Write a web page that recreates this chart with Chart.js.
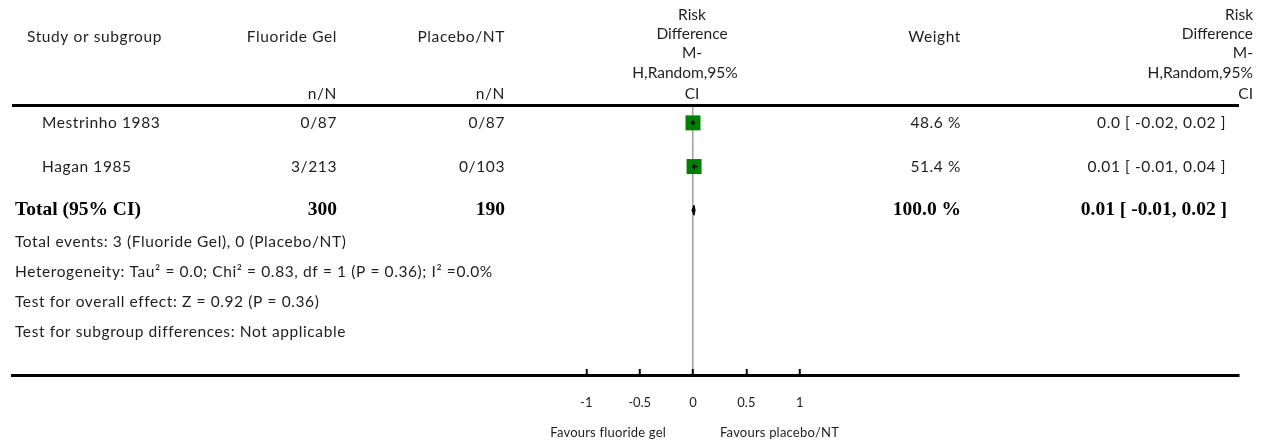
<!DOCTYPE html>
<html>
<head>
<meta charset="utf-8">
<script src="https://cdn.jsdelivr.net/npm/chart.js@4.4.0/dist/chart.umd.min.js"></script>
<style>
  html, body { margin: 0; padding: 0; background: #ffffff; }
  canvas { display: block; }
</style>
</head>
<body>
<canvas id="forest" width="1266" height="445"></canvas>
<script>
// Studies and their counts
const studies = ['Mestrinho 1983', 'Hagan 1985'];
const gelEvents = [0, 3];
const gelTotals = [87, 213];
const placeboEvents = [0, 0];
const placeboTotals = [87, 103];
const weights = [48.6, 51.4];

// Risk differences with 95% CI
const riskDiff = [0.0, 0.01];
const ciLow = [-0.02, -0.01];
const ciHigh = [0.02, 0.04];

// Pooled result
const totalGel = 300;
const totalPlacebo = 190;
const totalWeight = 100.0;
const pooledRD = 0.01;
const pooledLow = -0.01;
const pooledHigh = 0.02;

// Axis
const tickValues = [-1, -0.5, 0, 0.5, 1];
const tickLabels = ['-1', '-0.5', '0', '0.5', '1'];

const footnotes = [
  'Total events: 3 (Fluoride Gel), 0 (Placebo/NT)',
  'Heterogeneity: Tau\u00B2 = 0.0; Chi\u00B2 = 0.83, df = 1 (P = 0.36); I\u00B2 =0.0%',
  'Test for overall effect: Z = 0.92 (P = 0.36)',
  'Test for subgroup differences: Not applicable'
];

const SANS = 'Lato, "Open Sans", sans-serif';
const SERIF = '"Liberation Serif", "DejaVu Serif", serif';
const INK = '#1e1e1e';

function fmtRD(v) { return v === 0 ? '0.0' : String(v); }
function fmtCI(est, lo, hi) { return fmtRD(est) + ' [ ' + lo.toFixed(2) + ', ' + hi.toFixed(2) + ' ]'; }

const totalRow = studies.length;

// Text columns of the table, drawn next to the plot
const tablePlugin = {
  id: 'forestTable',
  afterDraw(chart) {
    const ctx = chart.ctx;
    const area = chart.chartArea;
    const xs = chart.scales.x;
    const ys = chart.scales.y;
    ctx.save();
    ctx.fillStyle = INK;
    ctx.textBaseline = 'middle';

    const text = (s, x, y, align, font, spacing) => {
      ctx.font = font;
      ctx.textAlign = align;
      if ('letterSpacing' in ctx) ctx.letterSpacing = spacing || '0px';
      ctx.fillText(s, x, y);
    };
    const reg = '15.5px ' + SANS;
    const sp = '0.6px';

    // header
    text('Study or subgroup', 27, 37, 'left', reg, sp);
    text('Fluoride Gel', 337, 37, 'right', reg, sp);
    text('n/N', 337, 94, 'right', reg, sp);
    text('Placebo/NT', 505, 37, 'right', reg, sp);
    text('n/N', 505, 94, 'right', reg, sp);
    const hdr = ['Risk', 'Difference', 'M-', 'H,Random,95%', 'CI'];
    const hy = [15, 34, 53, 73, 94];
    hdr.forEach((s, i) => {
      text(s, s === 'H,Random,95%' ? 685 : 692, hy[i], 'center', reg, '0px');
      text(s, 1253, hy[i], 'right', reg, '0px');
    });
    text('Weight', 961, 37, 'right', reg, sp);

    // header rule
    ctx.strokeStyle = '#000';
    ctx.lineWidth = 3;
    ctx.beginPath();
    ctx.moveTo(area.left, 105.5);
    ctx.lineTo(area.right, 105.5);
    ctx.stroke();

    // study rows
    studies.forEach((name, i) => {
      const y = ys.getPixelForValue(i);
      text(name, 42, y, 'left', reg, sp);
      text(gelEvents[i] + '/' + gelTotals[i], 337, y, 'right', reg, sp);
      text(placeboEvents[i] + '/' + placeboTotals[i], 505, y, 'right', reg, sp);
      text(weights[i].toFixed(1) + ' %', 961, y, 'right', reg, sp);
      text(fmtCI(riskDiff[i], ciLow[i], ciHigh[i]), 1226, y, 'right', reg, sp);
    });

    // pooled row
    const ty = ys.getPixelForValue(totalRow);
    const bold = 'bold 19.5px ' + SERIF;
    ctx.fillStyle = '#000';
    text('Total (95% CI)', 15, ty, 'left', bold);
    text(String(totalGel), 337, ty, 'right', bold);
    text(String(totalPlacebo), 505, ty, 'right', bold);
    text(totalWeight.toFixed(1) + ' %', 961, ty, 'right', bold);
    text(fmtCI(pooledRD, pooledLow, pooledHigh), 1227, ty, 'right', bold);

    ctx.fillStyle = INK;
    footnotes.forEach((s, i) => {
      text(s, 15, ty + 32 + i * 30, 'left', reg, sp);
    });

    // favours labels under the axis
    const x0 = xs.getPixelForValue(0);
    const small = '13px ' + SANS;
    text('Favours fluoride gel', x0 - 27, 433, 'right', small, '0.2px');
    text('Favours placebo/NT', x0 + 27, 433, 'left', small, '0.2px');
    ctx.restore();
  }
};

const studyPoints = riskDiff.map((v, i) => ({ x: v, y: i }));

const datasets = [];
// confidence interval lines
studies.forEach((s, i) => {
  datasets.push({
    label: s + ' CI',
    showLine: true,
    data: [{ x: ciLow[i], y: i }, { x: ciHigh[i], y: i }],
    borderColor: '#000',
    borderWidth: 1.5,
    pointRadius: 0
  });
});
// point estimate marks
datasets.push({
  label: 'estimate',
  data: studyPoints,
  pointStyle: 'line',
  rotation: 90,
  pointRadius: 2.5,
  borderColor: '#000',
  borderWidth: 1.5
});
// weight squares
datasets.push({
  label: 'weight',
  data: studyPoints,
  pointStyle: 'rect',
  pointRadius: 10.6,
  backgroundColor: '#008000',
  borderWidth: 0
});
// pooled diamond
const halfH = 0.115;
datasets.push({
  label: 'pooled',
  showLine: true,
  fill: 'shape',
  data: [
    { x: pooledLow, y: totalRow },
    { x: pooledRD, y: totalRow - halfH },
    { x: pooledHigh, y: totalRow },
    { x: pooledRD, y: totalRow + halfH },
    { x: pooledLow, y: totalRow }
  ],
  borderColor: '#000',
  backgroundColor: '#000',
  borderWidth: 1,
  pointRadius: 0,
  tension: 0
});

function build() {
  new Chart(document.getElementById('forest'), {
    type: 'scatter',
    data: { datasets },
    options: {
      responsive: false,
      animation: false,
      devicePixelRatio: 1,
      events: [],
      layout: { padding: { left: 12, right: 27, top: 105, bottom: 0 } },
      plugins: { legend: { display: false }, tooltip: { enabled: false } },
      scales: {
        x: {
          type: 'linear',
          min: -6.382,
          max: 5.117,
          afterBuildTicks(scale) { scale.ticks = tickValues.map(v => ({ value: v })); },
          afterFit(scale) { scale.height = 70; },
          ticks: {
            callback: (v, i) => tickLabels[i],
            font: { family: SANS, size: 13 },
            color: INK,
            padding: 26,
            maxRotation: 0,
            autoSkip: false
          },
          grid: {
            color: c => (c.tick && c.tick.value === 0 ? '#a0a0a0' : 'rgba(0,0,0,0)'),
            lineWidth: 1.5,
            tickLength: -6,
            tickWidth: 2,
            tickColor: '#000',
            drawOnChartArea: true
          },
          border: { display: true, color: '#000', width: 3 }
        },
        y: {
          type: 'linear',
          display: false,
          reverse: true,
          min: -0.409,
          max: 5.773
        }
      }
    },
    plugins: [tablePlugin]
  });
}

if (document.fonts && document.fonts.load) {
  Promise.all([
    document.fonts.load('15px Lato'),
    document.fonts.load('bold 19px "Liberation Serif"')
  ]).then(build, build);
} else {
  build();
}
</script>
</body>
</html>
